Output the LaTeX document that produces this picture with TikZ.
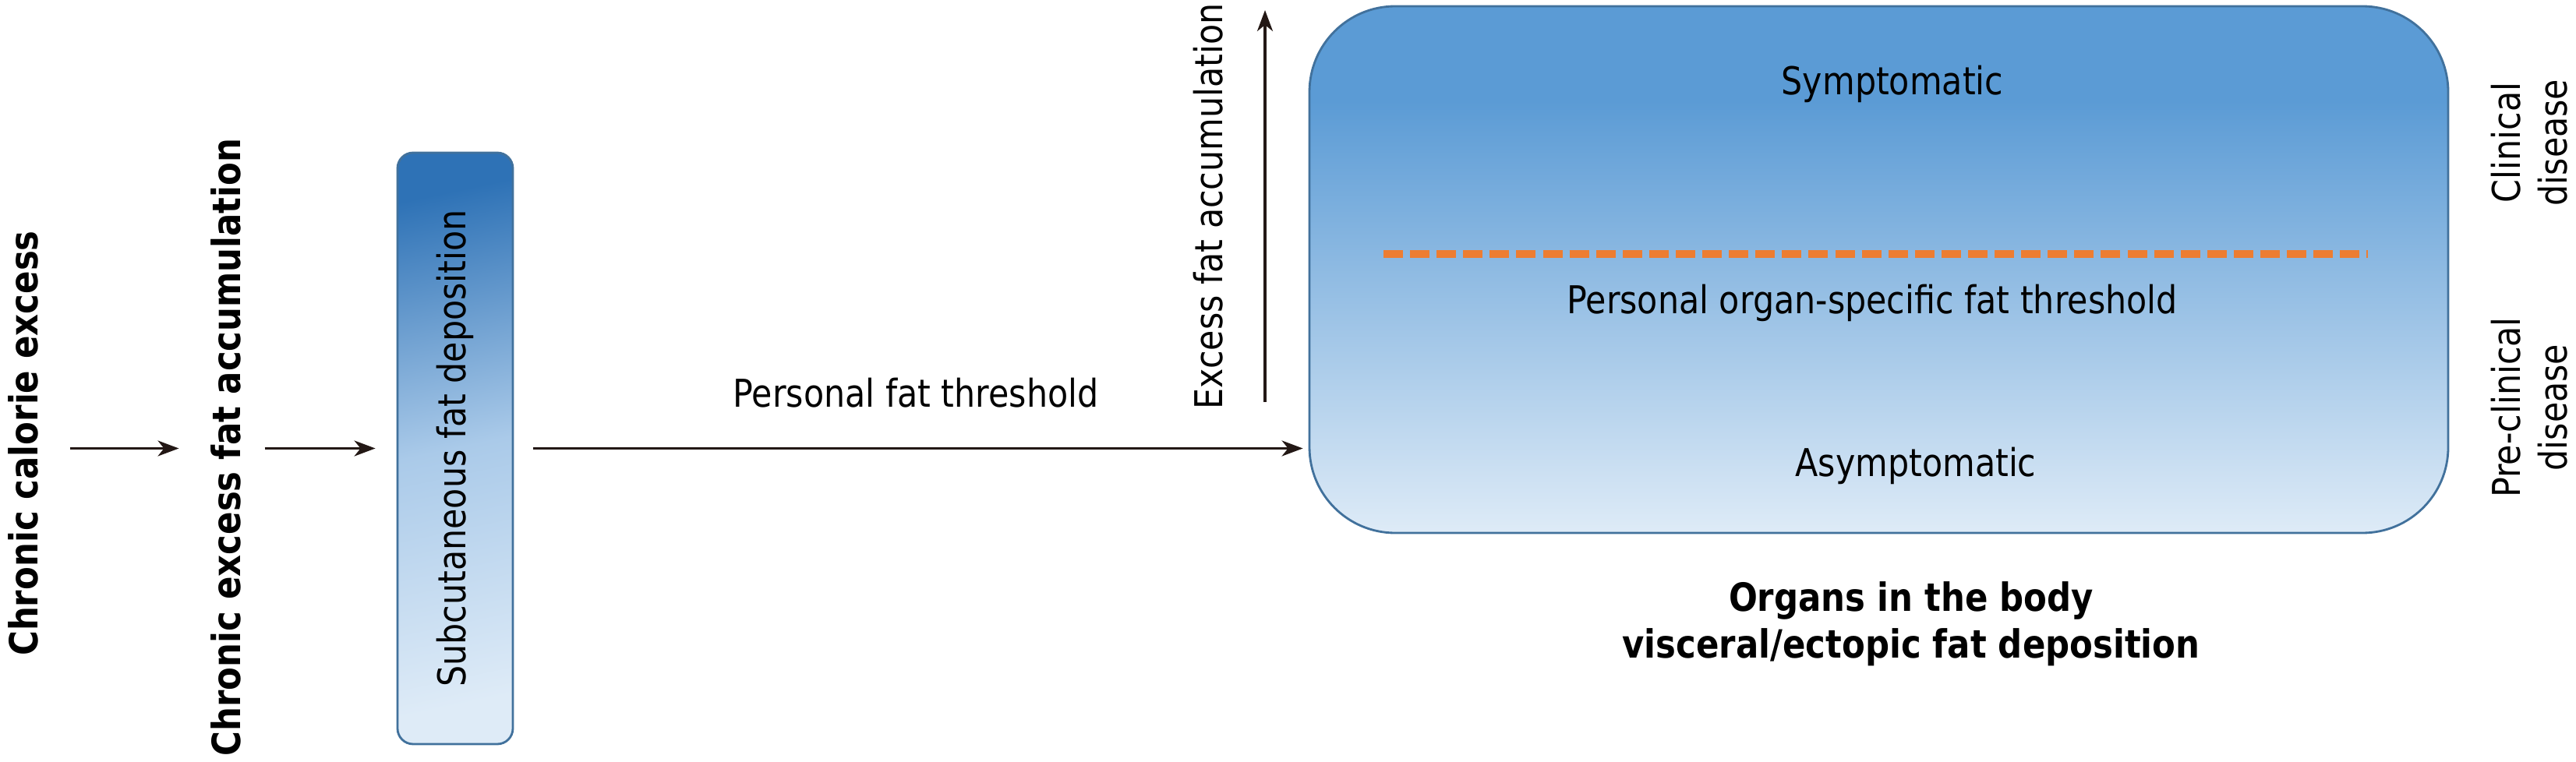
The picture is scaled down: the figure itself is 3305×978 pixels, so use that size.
\documentclass[tikz,border=0pt]{standalone}
\usepackage{fontspec}
\setmainfont{DejaVu Sans}[FakeStretch=0.87]
\usetikzlibrary{arrows.meta,positioning}

\definecolor{flowcol}{RGB}{35,24,21}
\definecolor{edgeblue}{RGB}{65,113,156}
\definecolor{orgtop}{RGB}{91,155,213}
\definecolor{orgbot}{RGB}{222,235,247}
\definecolor{subtop}{RGB}{46,114,182}
\definecolor{submid}{RGB}{170,202,233}
\definecolor{threshorange}{RGB}{237,125,49}
\pgfdeclareverticalshading{organfill}{100bp}{color(0bp)=(orgbot); color(25bp)=(orgbot); color(66bp)=(orgtop); color(100bp)=(orgtop)}

\begin{document}
\begin{tikzpicture}[x=0.1mm, y=-0.1mm,
    plaintext/.style={inner sep=0pt, font=\fontsize{14}{17}\selectfont},
    boldtext/.style={inner sep=0pt, font=\fontsize{14.2}{17}\selectfont\bfseries},
    flow/.style={draw=flowcol, line width=0.95pt, -{Stealth[length=2.7mm, width=2mm, inset=0.8mm]}},
    subbox/.style={draw=edgeblue, line width=0.8pt, rounded corners=2mm, inner sep=0pt,
        minimum width=14.8mm, minimum height=75.9mm,
        top color=subtop, bottom color=orgbot, middle color=submid, shading angle=12,
        font=\fontsize{14}{17}\selectfont},
    organbox/.style={draw=edgeblue, line width=0.8pt, rounded corners=11mm,
        minimum width=146.1mm, minimum height=67.6mm, shade, shading=organfill},
    threshold/.style={draw=threshorange, line width=2.8pt, dash pattern=on 7.1pt off 2.6pt}]
    \useasboundingbox (0,0) rectangle (3305,978);

    % left chain
    \node[boldtext, rotate=90] (calorie) at (29.5,569) {Chronic calorie excess};
    \node[boldtext, rotate=90] (accum) at (289.5,574) {Chronic excess fat accumulation};
    \node[subbox] (subq) at (584,575.5) {\rotatebox{90}{Subcutaneous fat deposition}};

    % organs
    \node[organbox] (organs) at (2410.5,346) {};
    \node[plaintext, anchor=base] (sympt) at (2428,122) {Symptomatic};
    \draw[threshold] (1775,326) -- (3038,326);
    \node[plaintext, anchor=base] (orgthr) at (2402,402) {Personal organ-specific fat threshold};
    \node[plaintext, anchor=base] (asympt) at (2458,611) {Asymptomatic};
    \node[boldtext, align=center] (organlbl) at (2452,801) {Organs in the body\\visceral/ectopic fat deposition};
    \node[plaintext, rotate=90, align=center] (clinical) at (3245,183) {Clinical\\disease};
    \node[plaintext, rotate=90, align=center] (preclin) at (3245,523) {Pre-clinical\\disease};

    \node[plaintext, anchor=base] (fatthr) at (1175,522) {Personal fat threshold};
    \node[plaintext, rotate=90] (excess) at (1550,265) {Excess fat accumulation};
    \coordinate (riseS) at (1623,516);
    \coordinate (riseN) at (1623,13);

    \draw[flow, shorten <=4mm, shorten >=4mm] (calorie.south |- subq.west) -- (accum.north |- subq.west);
    \draw[flow, shorten <=3mm, shorten >=2.7mm] (accum.south |- subq.west) -- (subq.west);
    \draw[flow, shorten <=2.5mm, shorten >=0.7mm] (subq.east) -- (subq.east -| organs.west);
    \draw[flow] (riseS) -- (riseN);
\end{tikzpicture}
\end{document}
